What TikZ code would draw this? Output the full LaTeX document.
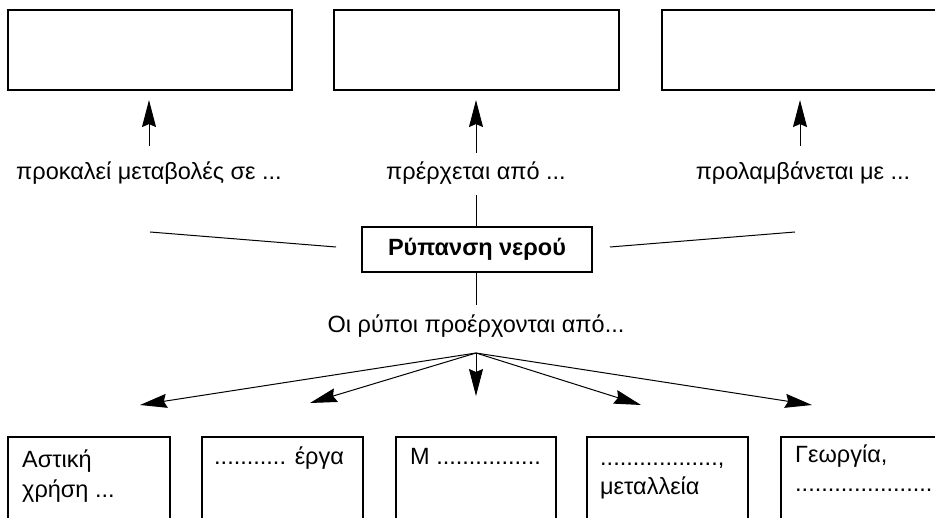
\documentclass[tikz,border=0pt]{standalone}
\usepackage{fontspec}
\setmainfont{Liberation Sans}
\usetikzlibrary{arrows.meta}
\begin{document}
\begin{tikzpicture}[x=1pt,y=-1pt,
  box/.style={draw,line width=1.1pt,inner sep=0pt},
  lab/.style={font=\fontsize{23.5}{28}\selectfont,inner sep=0pt},
  btxt/.style={font=\fontsize{23.5}{29.5}\selectfont,inner sep=0pt,anchor=base west,align=left},
  arr/.style={line width=1pt,-{Stealth[length=27pt,width=14pt,inset=3pt]}},
  ln/.style={line width=1pt}]
\clip (0,0) rectangle (935,518);
\useasboundingbox (0,0) rectangle (935,518);
% top boxes
\node[box,minimum width=284pt,minimum height=80pt] (t1) at (150,50) {};
\node[box,minimum width=285pt,minimum height=80pt] (t2) at (476.5,50) {};
\node[box,minimum width=290pt,minimum height=80pt] (t3) at (807,50) {};
% labels
\node[lab] (l1) at (149,173) {προκαλεί μεταβολές σε ...};
\node[lab] (l2) at (476,173) {πρέρχεται από ...};
\node[lab] (l3) at (803,173) {προλαμβάνεται με ...};
\coordinate (a1) at (149,146);
\coordinate (a2) at (476,153);
\coordinate (a3) at (800,146);
\draw[arr,shorten >=9.5pt] (a1) -- (a1 |- t1.south);
\draw[arr,shorten >=9.5pt] (a2) -- (a2 |- t2.south);
\draw[arr,shorten >=9.5pt] (a3) -- (a3 |- t3.south);
% center
\node[box,minimum width=230pt,minimum height=45pt,font=\fontsize{23.5}{28}\selectfont\bfseries] (c) at (477,249.5) {Ρύπανση νερού};
\coordinate (up) at (476,195);
\draw[ln] (c.north -| up) -- (up);
\coordinate (sl1) at (336,247);
\coordinate (sl2) at (150,232);
\coordinate (sr1) at (610,247);
\coordinate (sr2) at (795,232);
\draw[ln] (sl1) -- (sl2);
\draw[ln] (sr1) -- (sr2);
\coordinate (dn) at (476,305);
\draw[ln] (c.south -| dn) -- (dn);
\node[lab] (l4) at (476,326) {Οι ρύποι προέρχονται από...};
\coordinate (o) at (476,353);
\coordinate (e1) at (140,405);
\coordinate (e2) at (310,403);
\coordinate (e3) at (476,396);
\coordinate (e4) at (641,405);
\coordinate (e5) at (812,405);
\foreach \e in {e1,e2,e3,e4,e5} \draw[arr] (o) -- (\e);
% bottom boxes
\draw[box] (8,540) -- (8,437) -- (170,437) -- (170,540);
\draw[box] (202,540) -- (202,437) -- (363,437) -- (363,540);
\draw[box] (396,540) -- (396,437) -- (556,437) -- (556,540);
\draw[box] (587,540) -- (587,437) -- (748,437) -- (748,540);
\draw[box] (781,540) -- (781,437) -- (950,437);
\node[btxt] (b1) at (22,497) {Αστική\\χρήση ...};
\node[btxt] (b2) at (214,465) {........... έργα};
\node[btxt] (b3) at (410,465) {Μ ................};
\node[btxt] (b4) at (600,495) {..................,\\μεταλλεία};
\node[btxt] (b5) at (795,492) {Γεωργία,\\.....................};
\end{tikzpicture}
\end{document}
